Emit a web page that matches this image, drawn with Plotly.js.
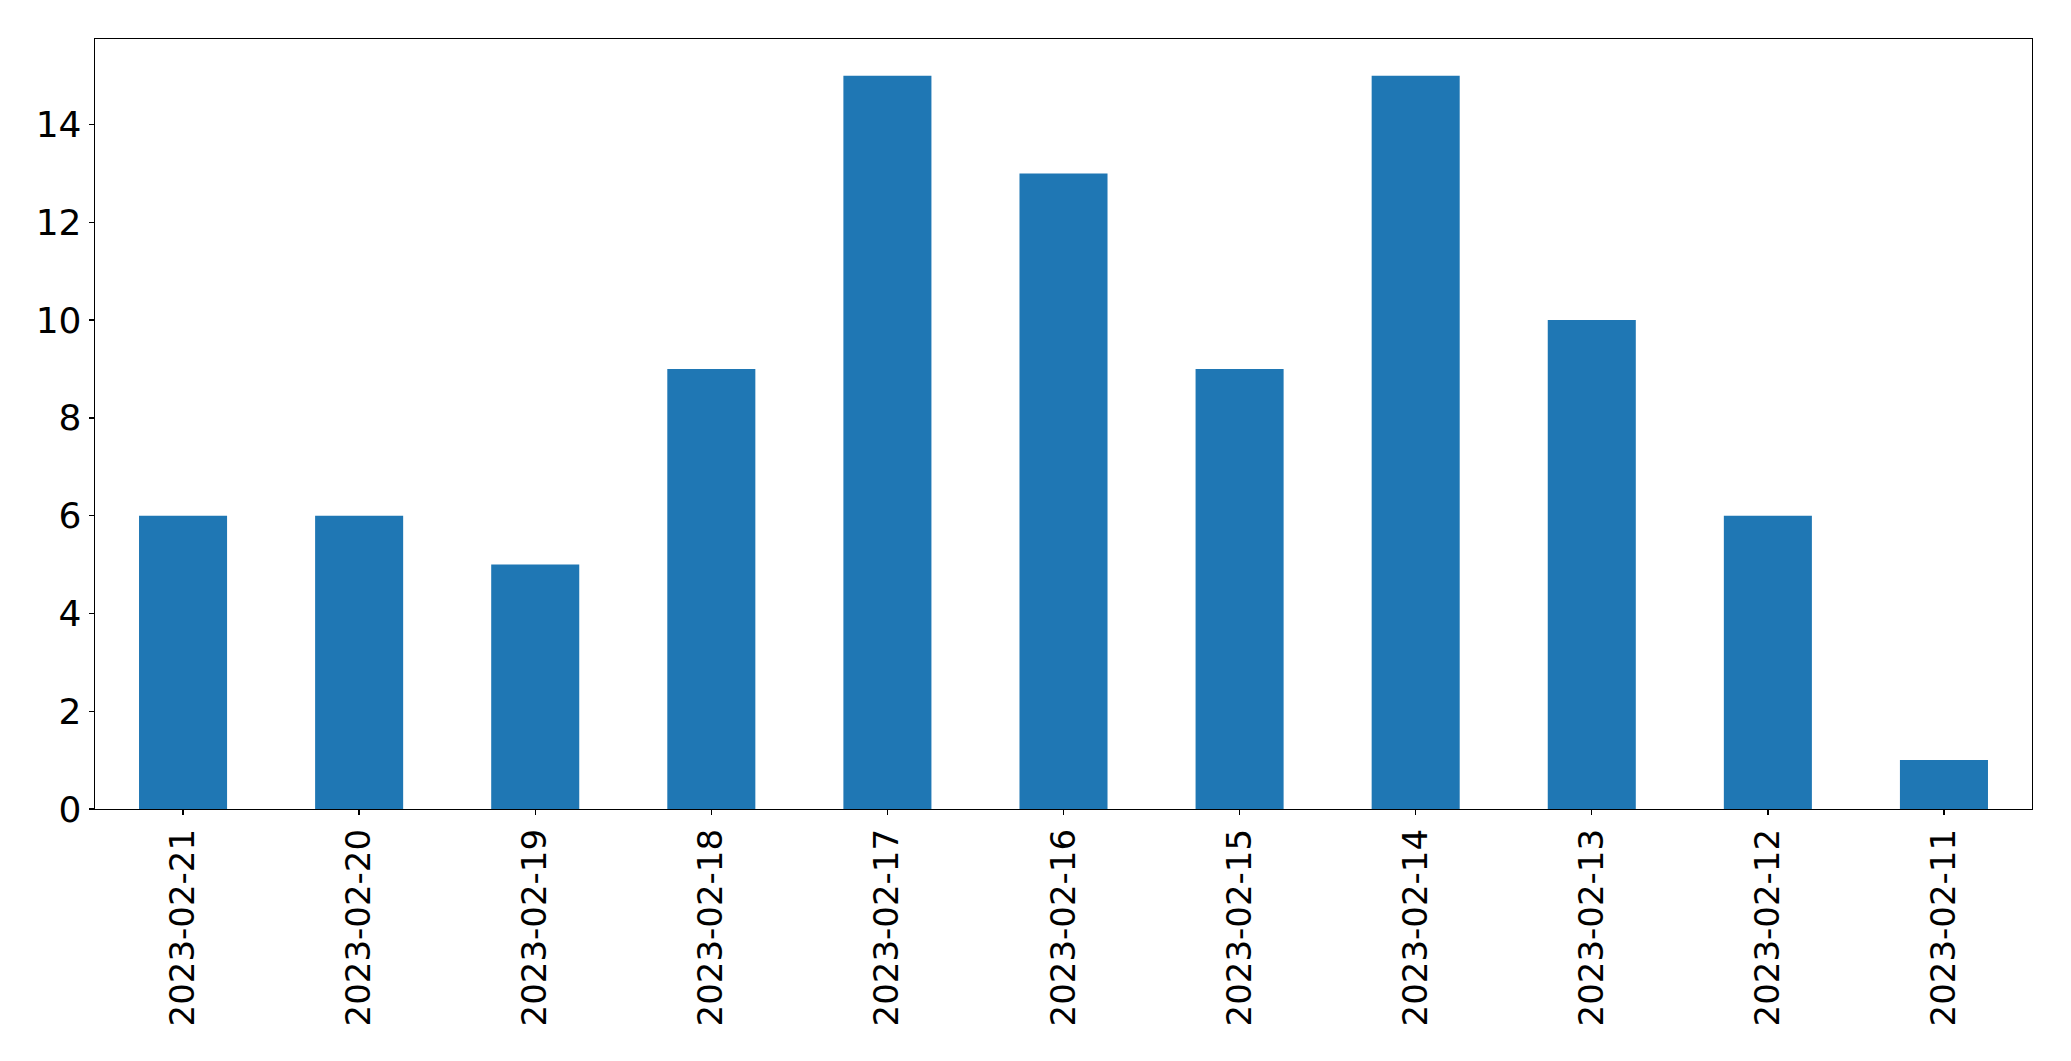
<!DOCTYPE html>
<html>
<head>
<meta charset="utf-8">
<script src="https://cdn.plot.ly/plotly-3.0.1.min.js"></script>
<style>html,body{margin:0;padding:0;background:#fff;}#chart{width:2071px;height:1061px;}</style>
</head>
<body>
<div id="chart"></div>
<script>
const dates = ["2023-02-21","2023-02-20","2023-02-19","2023-02-18","2023-02-17","2023-02-16","2023-02-15","2023-02-14","2023-02-13","2023-02-12","2023-02-11"];
const counts = [6, 6, 5, 9, 15, 13, 9, 15, 10, 6, 1];
const yTicks = [0, 2, 4, 6, 8, 10, 12, 14];

const data = [{
  type: 'bar',
  x: dates,
  y: counts,
  width: 0.5,
  marker: {color: '#1f77b4', line: {width: 0}},
  hoverinfo: 'x+y'
}];

const layout = {
  width: 2071,
  height: 1061,
  margin: {l: 95, r: 39, t: 39, b: 252, pad: 0},
  paper_bgcolor: '#fff',
  plot_bgcolor: '#fff',
  showlegend: false,
  font: {family: 'DejaVu Sans', size: 34, color: '#000'},
  xaxis: {
    type: 'category',
    range: [-0.5, 10.5],
    tickangle: -90,
    ticks: 'outside',
    ticklen: 5,
    tickwidth: 1.3,
    tickcolor: '#000',
    showline: true,
    linecolor: '#000',
    linewidth: 1.3,
    mirror: true,
    showgrid: false,
    zeroline: false,
    tickfont: {family: 'DejaVu Sans', size: 34, color: '#000'}
  },
  yaxis: {
    range: [0, 15.75],
    tickvals: yTicks,
    ticktext: yTicks.map(String),
    ticks: 'outside',
    ticklen: 5,
    tickwidth: 1.3,
    tickcolor: '#000',
    showline: true,
    linecolor: '#000',
    linewidth: 1.3,
    mirror: true,
    showgrid: false,
    zeroline: false,
    tickfont: {family: 'DejaVu Sans', size: 36, color: '#000'}
  }
};

Plotly.newPlot('chart', data, layout, {displayModeBar: false, staticPlot: true});
</script>
</body>
</html>
